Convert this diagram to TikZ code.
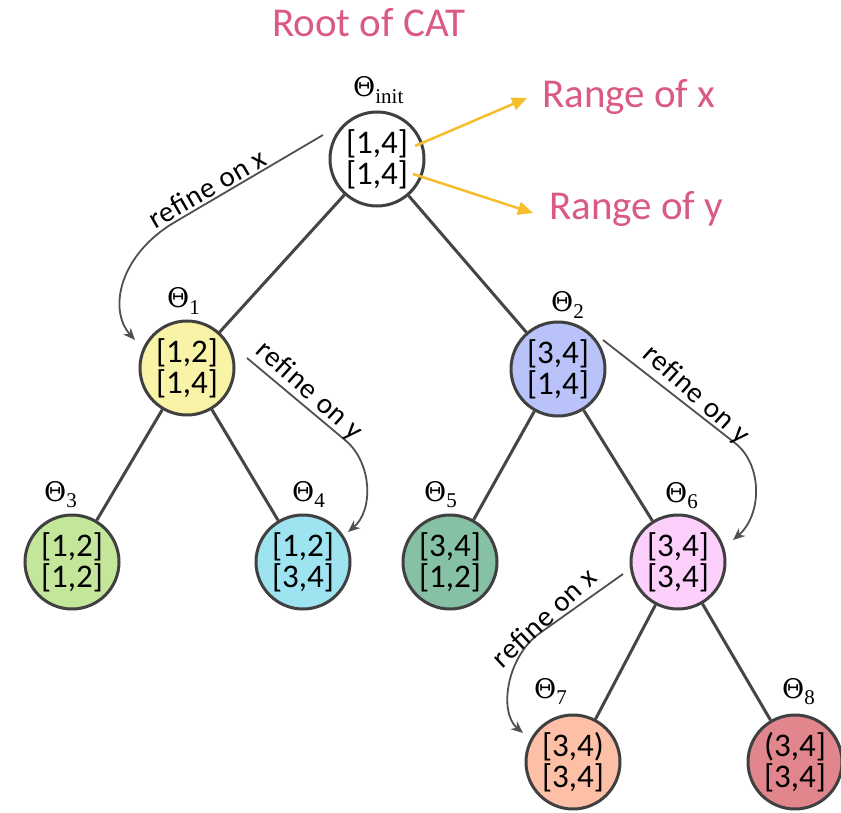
\documentclass[tikz,border=0pt]{standalone}
\usepackage[no-math]{fontspec}
\setmainfont{Carlito}
\newfontfamily\refinefont[LetterSpace=3]{Carlito}
\newfontfamily\greekserif{DejaVu Serif}
\newfontfamily\indexserif{Liberation Serif}
\usetikzlibrary{calc,arrows.meta}

\definecolor{rimgray}{HTML}{404040}
\definecolor{edgegray}{HTML}{454545}
\definecolor{refgray}{HTML}{505050}
\definecolor{catpink}{HTML}{DB5A82}
\definecolor{pointyellow}{HTML}{F6BE2C}
\definecolor{fillA}{HTML}{F8F3A6}
\definecolor{fillB}{HTML}{B9C3FA}
\definecolor{fillC}{HTML}{C4E69A}
\definecolor{fillD}{HTML}{9DE3F0}
\definecolor{fillE}{HTML}{86C0A5}
\definecolor{fillF}{HTML}{FDD0FC}
\definecolor{fillG}{HTML}{FDC0A6}
\definecolor{fillH}{HTML}{E2868D}

% parameter name: a serif Theta with a lowered index
\newcommand\thetaname[1]{{\greekserif\symbol{"0398}\raisebox{-6.5pt}{\indexserif\fontsize{21}{21}\selectfont #1}}}

\tikzset{
  cell/.style={circle, draw=rimgray, line width=3pt, minimum size=94pt,
    inner sep=0pt, align=center, font=\fontsize{33}{31}\selectfont},
  treeedge/.style={draw=edgegray, line width=3pt},
  thetalabel/.style={anchor=base west, inner sep=0pt, font=\fontsize{27}{30}\selectfont},
  refine/.style={draw=refgray, line width=1.8pt, -{Stealth[length=12pt,width=10pt]}},
  refinetext/.style={inner sep=0pt, font=\refinefont\fontsize{29}{29}\selectfont},
  pinktext/.style={anchor=base west, inner sep=0pt, text=catpink, font=\fontsize{41}{41}\selectfont},
  pointer/.style={draw=pointyellow, line width=2.5pt, -{Triangle[length=15pt,width=13pt]}}
}

\begin{document}
\begin{tikzpicture}[x=1pt,y=-1pt]
\useasboundingbox (0,0) rectangle (841,813);

% tree cells
\node[cell, fill=white] (root) at (377,159) {[1,4]\\\relax[1,4]};
\node[cell, fill=fillA] (n1) at (187,368) {[1,2]\\\relax[1,4]};
\node[cell, fill=fillB] (n2) at (558,369) {[3,4]\\\relax[1,4]};
\node[cell, fill=fillC] (n3) at (72,562) {[1,2]\\\relax[1,2]};
\node[cell, fill=fillD] (n4) at (303,562) {[1,2]\\\relax[3,4]};
\node[cell, fill=fillE] (n5) at (450,562) {[3,4]\\\relax[1,2]};
\node[cell, fill=fillF] (n6) at (678,562) {[3,4]\\\relax[3,4]};
\node[cell, fill=fillG] (n7) at (573,762) {[3,4)\\\relax[3,4]};
\node[cell, fill=fillH] (n8) at (795,762) {(3,4]\\\relax[3,4]};

% parameter names
\node[thetalabel] (t0) at (353,97) {\thetaname{init}};
\node[thetalabel] (t1) at (167,308) {\thetaname{1}};
\node[thetalabel] (t2) at (551,312) {\thetaname{2}};
\node[thetalabel] (t3) at (44,501) {\thetaname{3}};
\node[thetalabel] (t4) at (292,501) {\thetaname{4}};
\node[thetalabel] (t5) at (424,501) {\thetaname{5}};
\node[thetalabel] (t6) at (665,502) {\thetaname{6}};
\node[thetalabel] (t7) at (534,698) {\thetaname{7}};
\node[thetalabel] (t8) at (782,698) {\thetaname{8}};

% tree edges
\draw[treeedge] (root) -- (n1);
\draw[treeedge] (root) -- (n2);
\draw[treeedge] (n1) -- (n3);
\draw[treeedge] (n1) -- (n4);
\draw[treeedge] (n2) -- (n5);
\draw[treeedge] (n2) -- (n6);
\draw[treeedge] (n6) -- (n7);
\draw[treeedge] (n6) -- (n8);

% refinement arrows
\draw[refine] ($(root)+(-54,-24)$) -- (175,222)
  .. controls (119,255) and (108,310) .. ($(n1)+(-52,-28)$);
\draw[refine] ($(n1)+(60,-10)$) -- (345,440)
  .. controls (372,462) and (374,510) .. ($(n4)+(45,-30)$);
\draw[refine] ($(n2)+(45,-29)$) -- (735,443)
  .. controls (763,465) and (762,515) .. ($(n6)+(55,-22)$);
\draw[refine] ($(n6)+(-55,12)$) -- (540,633)
  .. controls (507,656) and (498,712) .. ($(n7)+(-50,-29)$);

\node[refinetext, rotate=30] (r1) at (207,188) {refine on x};
\node[refinetext, rotate=-42] (r2) at (309,391) {refine on y};
\node[refinetext, rotate=-42] (r3) at (696,395) {refine on y};
\node[refinetext, rotate=43] (r4) at (544,617) {refine on x};

% annotations
\node[pinktext] (cat) at (272,37) {Root of CAT};
\node[pinktext] (rx) at (542,108) {Range of x};
\node[pinktext] (ry) at (549,220) {Range of y};
\draw[pointer] ($(root)+(38,-13)$) -- ($(rx.base west)+(-15,-10)$);
\draw[pointer] ($(root)+(36,15)$) -- ($(ry.base west)+(-16,-7)$);
\end{tikzpicture}
\end{document}
